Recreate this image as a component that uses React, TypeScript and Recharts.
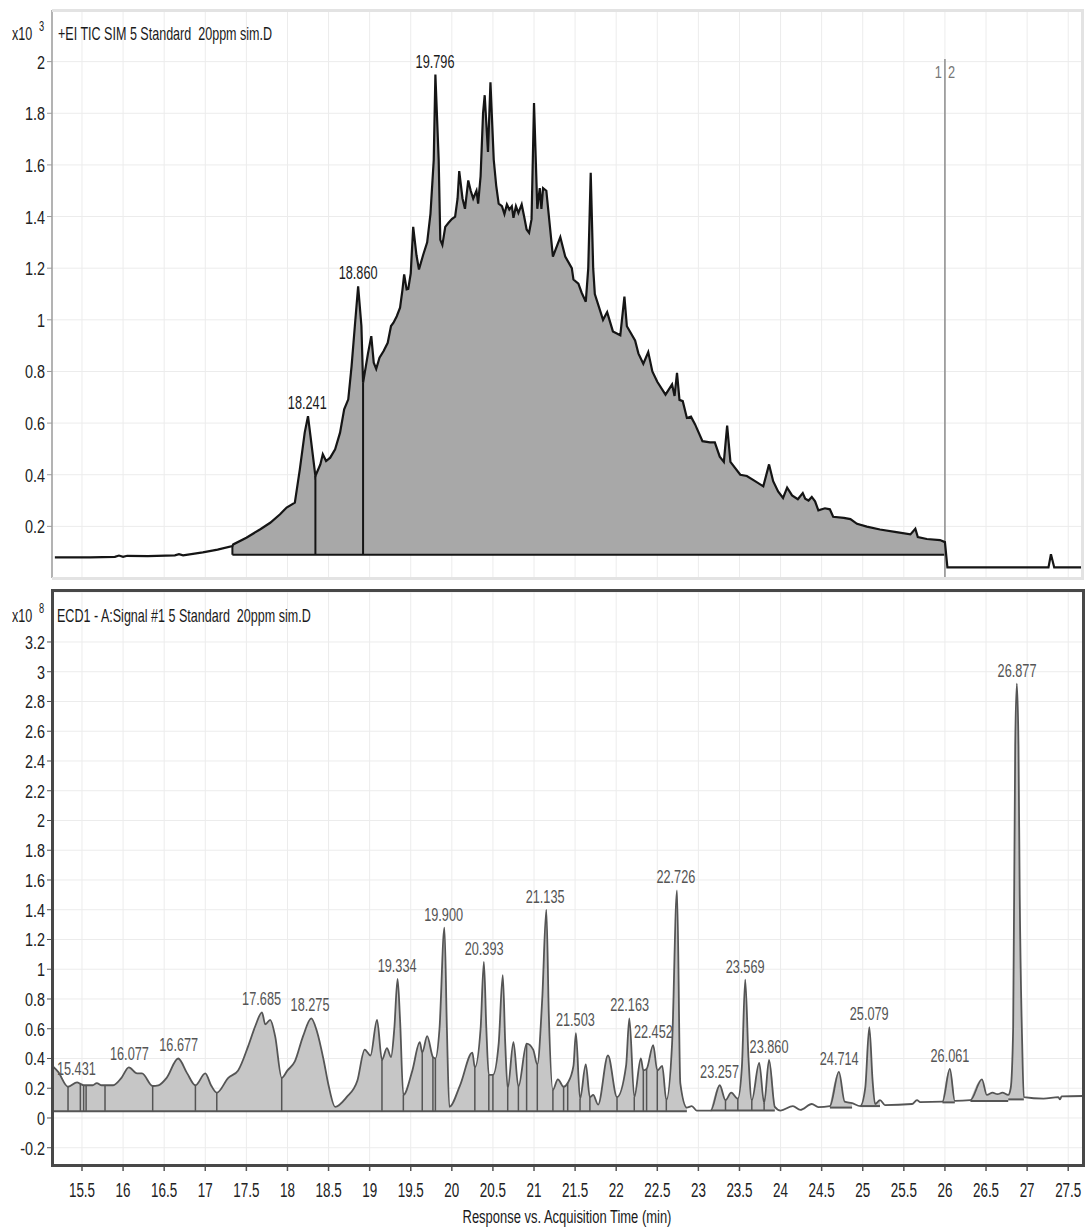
import React from 'react';
import {
  ComposedChart,
  Line,
  Area,
  XAxis,
  YAxis,
  CartesianGrid,
  ReferenceLine,
  ReferenceDot,
} from 'recharts';

type Pt = [number, number];
type Fill = [number, number, number];

const FONT = '"Liberation Sans Narrow", "Arial Narrow", "Liberation Sans", Arial, sans-serif';

const xDomain: [number, number] = [15.135, 27.68];
const xTicks = [
  15.5, 16, 16.5, 17, 17.5, 18, 18.5, 19, 19.5, 20, 20.5, 21, 21.5, 22, 22.5,
  23, 23.5, 24, 24.5, 25, 25.5, 26, 26.5, 27, 27.5,
];
const ticTicks = [0.2, 0.4, 0.6, 0.8, 1, 1.2, 1.4, 1.6, 1.8, 2];
const ecdTicks = [-0.2, 0, 0.2, 0.4, 0.6, 0.8, 1, 1.2, 1.4, 1.6, 1.8, 2, 2.2, 2.4, 2.6, 2.8, 3, 3.2];

// +EI TIC SIM trace (x10^3)
const ticPoints: Pt[] = [
  [15.17, 0.08], [15.6, 0.08], [15.9, 0.082], [15.95, 0.087], [16.0, 0.082], [16.05, 0.086],
  [16.3, 0.085], [16.63, 0.088], [16.68, 0.092], [16.73, 0.088], [16.97, 0.099], [17.15, 0.11],
  [17.33, 0.124], [17.34, 0.13], [17.5, 0.156], [17.67, 0.189], [17.79, 0.214], [17.91, 0.247],
  [17.99, 0.273], [18.09, 0.292], [18.15, 0.42], [18.21, 0.563], [18.25, 0.627], [18.28, 0.55],
  [18.34, 0.395], [18.4, 0.44], [18.43, 0.479], [18.47, 0.453], [18.52, 0.466], [18.58, 0.498],
  [18.64, 0.563], [18.69, 0.653], [18.74, 0.692], [18.78, 0.82], [18.82, 0.976], [18.86, 1.13],
  [18.9, 0.976], [18.92, 0.756], [18.98, 0.87], [19.02, 0.937], [19.05, 0.834], [19.08, 0.81],
  [19.12, 0.853], [19.17, 0.879], [19.22, 0.911], [19.26, 0.976], [19.29, 0.989], [19.33, 1.014],
  [19.37, 1.047], [19.4, 1.118], [19.42, 1.176], [19.45, 1.118], [19.47, 1.12], [19.5, 1.18],
  [19.53, 1.36], [19.57, 1.25], [19.6, 1.195], [19.65, 1.25], [19.7, 1.3], [19.74, 1.41],
  [19.78, 1.62], [19.8, 1.95], [19.84, 1.62], [19.86, 1.31], [19.885, 1.29], [19.92, 1.36],
  [19.96, 1.376], [20.0, 1.39], [20.04, 1.4], [20.07, 1.47], [20.09, 1.576], [20.13, 1.47],
  [20.16, 1.43], [20.2, 1.54], [20.23, 1.5], [20.26, 1.47], [20.3, 1.5], [20.32, 1.45],
  [20.35, 1.556], [20.38, 1.8], [20.4, 1.87], [20.44, 1.65], [20.47, 1.92], [20.51, 1.62],
  [20.54, 1.52], [20.57, 1.45], [20.61, 1.44], [20.64, 1.41], [20.67, 1.447], [20.7, 1.427],
  [20.73, 1.44], [20.75, 1.395], [20.78, 1.44], [20.81, 1.414], [20.85, 1.447], [20.88, 1.4],
  [20.91, 1.35], [20.94, 1.337], [20.97, 1.39], [21.0, 1.84], [21.04, 1.43], [21.07, 1.51],
  [21.09, 1.43], [21.11, 1.51], [21.15, 1.5], [21.23, 1.245], [21.32, 1.32], [21.38, 1.245],
  [21.46, 1.2], [21.48, 1.156], [21.54, 1.14], [21.58, 1.105], [21.63, 1.07], [21.66, 1.2],
  [21.69, 1.57], [21.72, 1.2], [21.74, 1.1], [21.84, 1.0], [21.89, 1.03], [21.96, 0.955],
  [22.05, 0.94], [22.1, 1.09], [22.13, 0.975], [22.23, 0.92], [22.27, 0.87], [22.33, 0.83],
  [22.39, 0.875], [22.44, 0.8], [22.5, 0.76], [22.6, 0.71], [22.68, 0.75], [22.71, 0.705],
  [22.74, 0.795], [22.77, 0.69], [22.81, 0.685], [22.86, 0.62], [22.91, 0.625], [22.96, 0.595],
  [23.05, 0.53], [23.14, 0.525], [23.2, 0.525], [23.26, 0.47], [23.31, 0.45], [23.35, 0.59],
  [23.39, 0.45], [23.51, 0.4], [23.59, 0.395], [23.69, 0.375], [23.79, 0.355], [23.86, 0.44],
  [23.91, 0.375], [23.97, 0.335], [24.03, 0.31], [24.08, 0.35], [24.14, 0.32], [24.21, 0.305],
  [24.27, 0.329], [24.3, 0.307], [24.34, 0.3], [24.38, 0.314], [24.42, 0.297], [24.46, 0.262],
  [24.54, 0.27], [24.6, 0.266], [24.64, 0.237], [24.77, 0.233], [24.85, 0.228], [24.93, 0.21],
  [25.05, 0.199], [25.21, 0.188], [25.41, 0.178], [25.58, 0.169], [25.64, 0.191], [25.67, 0.159],
  [25.78, 0.151], [25.94, 0.147], [26.0, 0.139], [26.03, 0.041], [27.26, 0.041], [27.29, 0.092],
  [27.33, 0.041], [27.68, 0.041],
];
const ticFill: Fill = [17.33, 26.0, 0.09];
const ticDrops = [17.33, 18.34, 18.92];
const ticDivider = 26.0;
const ticPeaks: Pt[] = [[18.241, 0.627], [18.86, 1.13], [19.796, 1.95]];

// ECD1 - A:Signal #1 trace (x10^8)
const ecdPoints: Pt[] = [
  [15.14, 0.35], [15.21, 0.31], [15.33, 0.21], [15.44, 0.24], [15.48, 0.23], [15.52, 0.22],
  [15.55, 0.22], [15.63, 0.22], [15.68, 0.235], [15.74, 0.22], [15.78, 0.22], [15.88, 0.22],
  [15.98, 0.27], [16.07, 0.34], [16.17, 0.3], [16.23, 0.3], [16.36, 0.215], [16.43, 0.22],
  [16.53, 0.27], [16.67, 0.4], [16.78, 0.3], [16.88, 0.22], [17.0, 0.3], [17.07, 0.22],
  [17.14, 0.17], [17.28, 0.27], [17.4, 0.32], [17.52, 0.48], [17.61, 0.62], [17.69, 0.71],
  [17.73, 0.63], [17.79, 0.66], [17.85, 0.55], [17.93, 0.27], [18.0, 0.32], [18.09, 0.38],
  [18.19, 0.55], [18.29, 0.67], [18.36, 0.58], [18.44, 0.39], [18.5, 0.22], [18.58, 0.075],
  [18.72, 0.14], [18.85, 0.25], [18.94, 0.46], [19.01, 0.42], [19.09, 0.66], [19.15, 0.39],
  [19.21, 0.47], [19.26, 0.41], [19.3, 0.6], [19.34, 0.935], [19.37, 0.66], [19.41, 0.155],
  [19.52, 0.32], [19.61, 0.51], [19.64, 0.44], [19.7, 0.55], [19.77, 0.41], [19.8, 0.4],
  [19.85, 0.6], [19.91, 1.28], [19.94, 0.6], [19.97, 0.075], [20.1, 0.22], [20.25, 0.44],
  [20.28, 0.34], [20.35, 0.6], [20.39, 1.05], [20.42, 0.6], [20.45, 0.29], [20.5, 0.29],
  [20.57, 0.5], [20.62, 0.96], [20.65, 0.5], [20.68, 0.2], [20.75, 0.51], [20.81, 0.21],
  [20.91, 0.5], [20.99, 0.46], [21.04, 0.36], [21.1, 0.8], [21.15, 1.4], [21.18, 0.7],
  [21.23, 0.19], [21.29, 0.26], [21.36, 0.21], [21.41, 0.235], [21.48, 0.35], [21.51, 0.57],
  [21.56, 0.13], [21.63, 0.36], [21.68, 0.14], [21.72, 0.155], [21.78, 0.09], [21.9, 0.42],
  [22.01, 0.14], [22.12, 0.35], [22.16, 0.67], [22.22, 0.14], [22.3, 0.4], [22.33, 0.32],
  [22.37, 0.33], [22.45, 0.49], [22.5, 0.32], [22.56, 0.35], [22.61, 0.12], [22.68, 0.5],
  [22.74, 1.53], [22.78, 0.235], [22.86, 0.07], [22.92, 0.08], [22.98, 0.05], [23.15, 0.05],
  [23.26, 0.22], [23.33, 0.12], [23.4, 0.17], [23.48, 0.13], [23.53, 0.35], [23.57, 0.93],
  [23.61, 0.4], [23.65, 0.12], [23.74, 0.37], [23.8, 0.1], [23.86, 0.39], [23.93, 0.075],
  [24.0, 0.05], [24.15, 0.08], [24.24, 0.054], [24.38, 0.094], [24.46, 0.073], [24.6, 0.08],
  [24.71, 0.31], [24.78, 0.11], [24.87, 0.1], [24.97, 0.08], [25.03, 0.2], [25.08, 0.61],
  [25.12, 0.25], [25.15, 0.094], [25.21, 0.12], [25.27, 0.087], [25.6, 0.094], [25.66, 0.12],
  [25.7, 0.107], [25.97, 0.11], [26.06, 0.33], [26.12, 0.115], [26.31, 0.12], [26.45, 0.26],
  [26.51, 0.155], [26.58, 0.17], [26.64, 0.16], [26.7, 0.17], [26.77, 0.155], [26.8, 0.2],
  [26.83, 0.6], [26.855, 2.5], [26.875, 2.92], [26.895, 2.5], [26.91, 1.5], [26.94, 0.5],
  [26.96, 0.14], [27.2, 0.13], [27.38, 0.14], [27.4, 0.125], [27.42, 0.145], [27.68, 0.148],
];
const ecdFills: Fill[] = [
  [15.14, 22.86, 0.045],
  [23.15, 23.93, 0.05],
  [24.6, 24.87, 0.07],
  [24.97, 25.21, 0.08],
  [25.97, 26.12, 0.105],
  [26.31, 26.77, 0.115],
  [26.77, 26.96, 0.125],
];
const ecdDrops = [
  15.33, 15.48, 15.52, 15.55, 15.78, 16.36, 16.88, 17.14, 17.93, 19.15, 19.41, 19.64, 19.77,
  19.8, 20.28, 20.45, 20.5, 20.68, 20.81, 20.91, 21.04, 21.23, 21.36, 21.41, 21.56, 21.68,
  22.01, 22.22, 22.33, 22.37, 22.5, 22.61, 23.33, 23.48, 23.65, 23.8,
];
const ecdPeaks: Pt[] = [
  [15.431, 0.24], [16.077, 0.34], [16.677, 0.4], [17.685, 0.71], [18.275, 0.67],
  [19.334, 0.935], [19.9, 1.28], [20.393, 1.05], [21.135, 1.4], [21.503, 0.57],
  [22.163, 0.67], [22.452, 0.49], [22.726, 1.53], [23.257, 0.22], [23.569, 0.93],
  [23.86, 0.39], [24.714, 0.31], [25.079, 0.61], [26.061, 0.33], [26.877, 2.92],
];

const toRows = (pts: Pt[]) => pts.map(([t, v]) => ({ t, v }));
const fillRows = (pts: Pt[], [a, b, base]: Fill) =>
  pts.filter(([t]) => t >= a - 1e-9 && t <= b + 1e-9).map(([t, v]) => ({ t, range: [base, v] }));
const nearest = (pts: Pt[], t: number) =>
  pts.reduce((best, p) => (Math.abs(p[0] - t) < Math.abs(best[0] - t) ? p : best));
const baseAt = (fills: Fill[], t: number) =>
  (fills.find(([a, b]) => t >= a - 1e-9 && t <= b + 1e-9) ?? fills[0])[2];
const fmt = (v: number) => String(Math.round(v * 10) / 10);

// condensed text: the original uses a narrow face
function Squeezed({ x, y, anchor, size, color, squeeze, children }: any) {
  return (
    <text
      transform={`translate(${x},${y}) scale(${squeeze},1)`}
      textAnchor={anchor}
      fontSize={size}
      fill={color}
      fontFamily={FONT}
    >
      {children}
    </text>
  );
}

function YTick({ x, y, payload }: any) {
  return (
    <Squeezed x={x} y={y + 7} anchor="end" size={19} squeeze={0.76} color="#222">
      {fmt(payload.value)}
    </Squeezed>
  );
}

function XTick({ x, y, payload }: any) {
  return (
    <Squeezed x={x} y={y + 24} anchor="middle" size={21} squeeze={0.64} color="#222">
      {fmt(payload.value)}
    </Squeezed>
  );
}

function PeakLabel({ viewBox, text, color }: any) {
  if (!viewBox) return null;
  const cx = viewBox.x + (viewBox.width || 0) / 2;
  return (
    <Squeezed x={cx} y={viewBox.y - 6} anchor="middle" size={19} squeeze={0.67} color={color}>
      {text}
    </Squeezed>
  );
}

function DividerLabel({ viewBox }: any) {
  if (!viewBox) return null;
  const { x, y } = viewBox;
  return (
    <g>
      <Squeezed x={x - 3} y={y + 19} anchor="end" size={17} squeeze={0.75} color="#777">1</Squeezed>
      <Squeezed x={x + 3} y={y + 19} anchor="start" size={17} squeeze={0.75} color="#777">2</Squeezed>
    </g>
  );
}

const textBase: React.CSSProperties = {
  position: 'absolute',
  fontFamily: FONT,
  color: '#1a1a1a',
  whiteSpace: 'pre',
  lineHeight: 1,
  transform: 'scaleX(0.66)',
  transformOrigin: 'left center',
};

function Multiplier({ top, exp }: { top: number; exp: string }) {
  return (
    <>
      <div style={{ ...textBase, left: 12, top, fontSize: 19 }}>x10</div>
      <div style={{ ...textBase, left: 39, top: top - 5, fontSize: 14 }}>{exp}</div>
    </>
  );
}

export default function App() {
  const ticRows = toRows(ticPoints);
  const ecdRows = toRows(ecdPoints);

  return (
    <div style={{ position: 'absolute', left: 0, top: 0, width: 1085, height: 1228, background: '#fff' }}>
      <div style={{ position: 'absolute', left: 0, top: 0 }}>
        <ComposedChart width={1085} height={580} margin={{ top: 10, right: 2, bottom: 2, left: 0 }}>
          <CartesianGrid stroke="#ececec" />
          <XAxis type="number" dataKey="t" domain={xDomain} ticks={xTicks} allowDataOverflow hide />
          <YAxis
            type="number"
            domain={[0, 2.2]}
            ticks={ticTicks}
            allowDataOverflow
            width={52}
            tickSize={5}
            tick={<YTick />}
            axisLine={{ stroke: '#9c9c9c', strokeWidth: 1.5 }}
            tickLine={{ stroke: '#9c9c9c' }}
          />
          <Area
            data={fillRows(ticPoints, ticFill)}
            dataKey="range"
            type="linear"
            stroke="none"
            fill="#a8a8a8"
            fillOpacity={1}
            isAnimationActive={false}
          />
          <ReferenceLine
            segment={[{ x: ticFill[0], y: ticFill[2] }, { x: ticFill[1], y: ticFill[2] }]}
            stroke="#151515"
            strokeWidth={2}
          />
          {ticDrops.map((t) => {
            const p = nearest(ticPoints, t);
            return (
              <ReferenceLine
                key={t}
                segment={[{ x: p[0], y: ticFill[2] }, { x: p[0], y: p[1] }]}
                stroke="#151515"
                strokeWidth={2}
              />
            );
          })}
          <ReferenceLine
            segment={[{ x: ticDivider, y: 0 }, { x: ticDivider, y: 2.01 }]}
            stroke="#8c8c8c"
            strokeWidth={1.5}
            label={<DividerLabel />}
          />
          <Line
            data={ticRows}
            dataKey="v"
            type="linear"
            stroke="#151515"
            strokeWidth={2.2}
            dot={false}
            isAnimationActive={false}
          />
          {ticPeaks.map(([t, h]) => (
            <ReferenceDot
              key={t}
              x={t}
              y={h}
              r={1}
              fill="none"
              stroke="none"
              label={<PeakLabel text={t.toFixed(3)} color="#1a1a1a" />}
            />
          ))}
        </ComposedChart>
      </div>

      <div style={{ position: 'absolute', left: 0, top: 580 }}>
        <ComposedChart width={1085} height={648} margin={{ top: 12, right: 2, bottom: 0, left: 0 }}>
          <CartesianGrid stroke="#ececec" />
          <XAxis
            type="number"
            dataKey="t"
            domain={xDomain}
            ticks={xTicks}
            allowDataOverflow
            height={63}
            tickSize={6}
            tick={<XTick />}
            axisLine={false}
            tickLine={{ stroke: '#555', strokeWidth: 1.5 }}
          />
          <YAxis
            type="number"
            domain={[-0.316, 3.536]}
            ticks={ecdTicks}
            allowDataOverflow
            width={52}
            tickSize={5}
            tick={<YTick />}
            axisLine={false}
            tickLine={{ stroke: '#555' }}
          />
          {ecdFills.map((f) => (
            <Area
              key={`fill-${f[0]}`}
              data={fillRows(ecdPoints, f)}
              dataKey="range"
              type="monotone"
              stroke="none"
              fill="#c6c6c6"
              fillOpacity={1}
              isAnimationActive={false}
            />
          ))}
          {ecdFills.map((f) => (
            <ReferenceLine
              key={`base-${f[0]}`}
              segment={[{ x: f[0], y: f[2] }, { x: f[1], y: f[2] }]}
              stroke="#555"
              strokeWidth={2}
            />
          ))}
          {ecdDrops.map((t) => {
            const p = nearest(ecdPoints, t);
            return (
              <ReferenceLine
                key={`drop-${t}`}
                segment={[{ x: p[0], y: baseAt(ecdFills, p[0]) }, { x: p[0], y: p[1] }]}
                stroke="#555"
                strokeWidth={1.5}
              />
            );
          })}
          <Line
            data={ecdRows}
            dataKey="v"
            type="monotone"
            stroke="#555"
            strokeWidth={1.8}
            dot={false}
            isAnimationActive={false}
          />
          {ecdPeaks.map(([t, h]) => (
            <ReferenceDot
              key={t}
              x={t}
              y={h}
              r={1}
              fill="none"
              stroke="none"
              label={<PeakLabel text={t.toFixed(3)} color="#555" />}
            />
          ))}
        </ComposedChart>
      </div>

      {/* panel frames */}
      <div
        style={{
          position: 'absolute', left: 52, top: 9, width: 1032, height: 571,
          borderTop: '3px solid #e3e3e3', borderRight: '3px solid #e3e3e3', borderBottom: '3px solid #e3e3e3',
          boxSizing: 'border-box', pointerEvents: 'none',
        }}
      />
      <div
        style={{
          position: 'absolute', left: 51, top: 589, width: 1034, height: 578,
          border: '3px solid #484848', boxSizing: 'border-box', pointerEvents: 'none',
        }}
      />

      <Multiplier top={24} exp="3" />
      <div style={{ ...textBase, left: 58, top: 24, fontSize: 19 }}>+EI TIC SIM 5 Standard  20ppm sim.D</div>

      <Multiplier top={606} exp="8" />
      <div style={{ ...textBase, left: 57, top: 606, fontSize: 19 }}>ECD1 - A:Signal #1 5 Standard  20ppm sim.D</div>

      <div
        style={{
          ...textBase, left: 317, width: 500, top: 1208, fontSize: 18, textAlign: 'center',
          transform: 'scaleX(0.72)', transformOrigin: 'center center',
        }}
      >
        Response vs. Acquisition Time (min)
      </div>
    </div>
  );
}
